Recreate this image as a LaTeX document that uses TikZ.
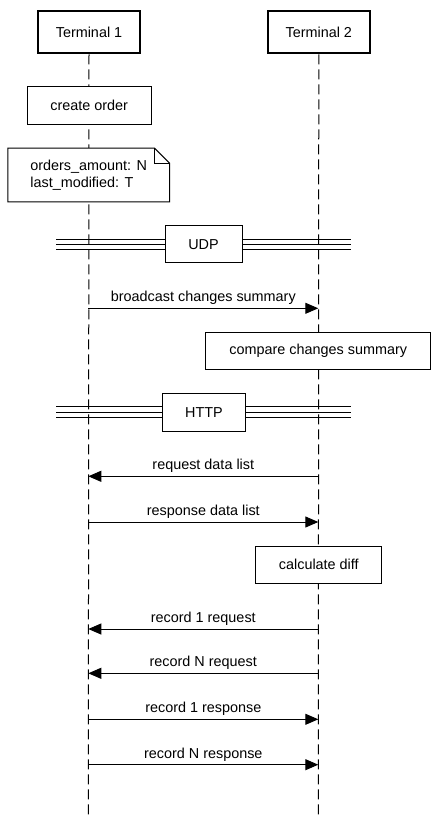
\documentclass[tikz,border=0pt]{standalone}
\usepackage{fontspec}
\setmainfont{Liberation Sans}
\usetikzlibrary{arrows.meta}
\begin{document}
\begin{tikzpicture}[x=1pt,y=-1pt,
  every node/.style={font=\fontsize{14.4}{16.7}\selectfont, inner sep=0pt},
  actor/.style={draw, line width=2pt, fill=white, minimum width=102pt, minimum height=42pt},
  actbox/.style={draw, line width=1pt, fill=white},
  lifeline/.style={line width=1pt, dash pattern=on 10pt off 5pt},
  divline/.style={line width=1pt},
  divmid/.style={line width=1.6pt},
  msg/.style={line width=1pt, -{Triangle[length=13pt,width=11pt]}},
  lbl/.style={above=3pt}
]
\useasboundingbox (0,0) rectangle (438,821);
\fill[white] (0,0) rectangle (438,821);

% actors
\node[actor] (t1) at (89,32.3) {Terminal 1};
\node[actor] (t2) at (318.8,32.3) {Terminal 2};
\coordinate (t1end) at (88.3,815);
\coordinate (t2end) at (318.3,815);
\draw[lifeline] (t1.south) -- (t1end);
\draw[lifeline] (t2.south) -- (t2end);

% create order
\node[actbox, minimum width=124.3pt, minimum height=37.6pt] (create) at (89.2,105.5) {create order};

% note
\node[minimum width=161.3pt, minimum height=53.4pt, align=left] (note) at (88.65,175) {orders\_amount: N\\last\_modified: T};
\draw[line width=1pt, fill=white] (note.north west) -- ([xshift=-15pt]note.north east) -- ([yshift=-15pt]note.north east) -- (note.south east) -- (note.south west) -- cycle;
\draw[line width=1pt] ([xshift=-15pt]note.north east) -- ([xshift=-15pt,yshift=-15pt]note.north east) -- ([yshift=-15pt]note.north east);
\node[align=left] (notetext) at (note.center) {orders\_amount: N\\last\_modified: T};

% UDP divider
\coordinate (udpL) at (56,244.3);
\coordinate (udpR) at (350.7,244.3);
\draw[divline] ([yshift=5pt]udpL) -- ([yshift=5pt]udpR);
\draw[divmid] (udpL) -- (udpR);
\draw[divline] ([yshift=-5pt]udpL) -- ([yshift=-5pt]udpR);
\node[actbox, minimum width=77pt, minimum height=36.7pt] (udp) at (203.5,244.3) {UDP};

% broadcast
\coordinate (b1) at (88.3,308.3);
\coordinate (b2) at (318.3,308.3);
\draw[msg] (b1) -- node[lbl] {broadcast changes summary} (b2);

\node[actbox, minimum width=224.7pt, minimum height=36.6pt] (compare) at (318.3,351) {compare changes summary};

% HTTP divider
\coordinate (httpL) at (56,412.3);
\coordinate (httpR) at (350.7,412.3);
\draw[divline] ([yshift=5.6pt]httpL) -- ([yshift=5.6pt]httpR);
\draw[divmid] (httpL) -- (httpR);
\draw[divline] ([yshift=-5.6pt]httpL) -- ([yshift=-5.6pt]httpR);
\node[actbox, minimum width=83.4pt, minimum height=37.7pt] (http) at (204,412.8) {HTTP};

% request data list
\coordinate (r1a) at (318.3,476.3);
\coordinate (r1b) at (88.3,476.3);
\draw[msg] (r1a) -- node[lbl] {request data list} (r1b);

% response data list
\coordinate (r2a) at (88.3,522);
\coordinate (r2b) at (318.3,522);
\draw[msg] (r2a) -- node[lbl] {response data list} (r2b);

\node[actbox, minimum width=126.3pt, minimum height=37pt] (diff) at (318.8,564.8) {calculate diff};

% record messages
\coordinate (m1a) at (318.3,629);
\coordinate (m1b) at (88.3,629);
\draw[msg] (m1a) -- node[lbl] {record 1 request} (m1b);

\coordinate (m2a) at (318.3,673.3);
\coordinate (m2b) at (88.3,673.3);
\draw[msg] (m2a) -- node[lbl] {record N request} (m2b);

\coordinate (m3a) at (88.3,719.3);
\coordinate (m3b) at (318.3,719.3);
\draw[msg] (m3a) -- node[lbl] {record 1 response} (m3b);

\coordinate (m4a) at (88.3,764.7);
\coordinate (m4b) at (318.3,764.7);
\draw[msg] (m4a) -- node[lbl] {record N response} (m4b);
\end{tikzpicture}
\end{document}
